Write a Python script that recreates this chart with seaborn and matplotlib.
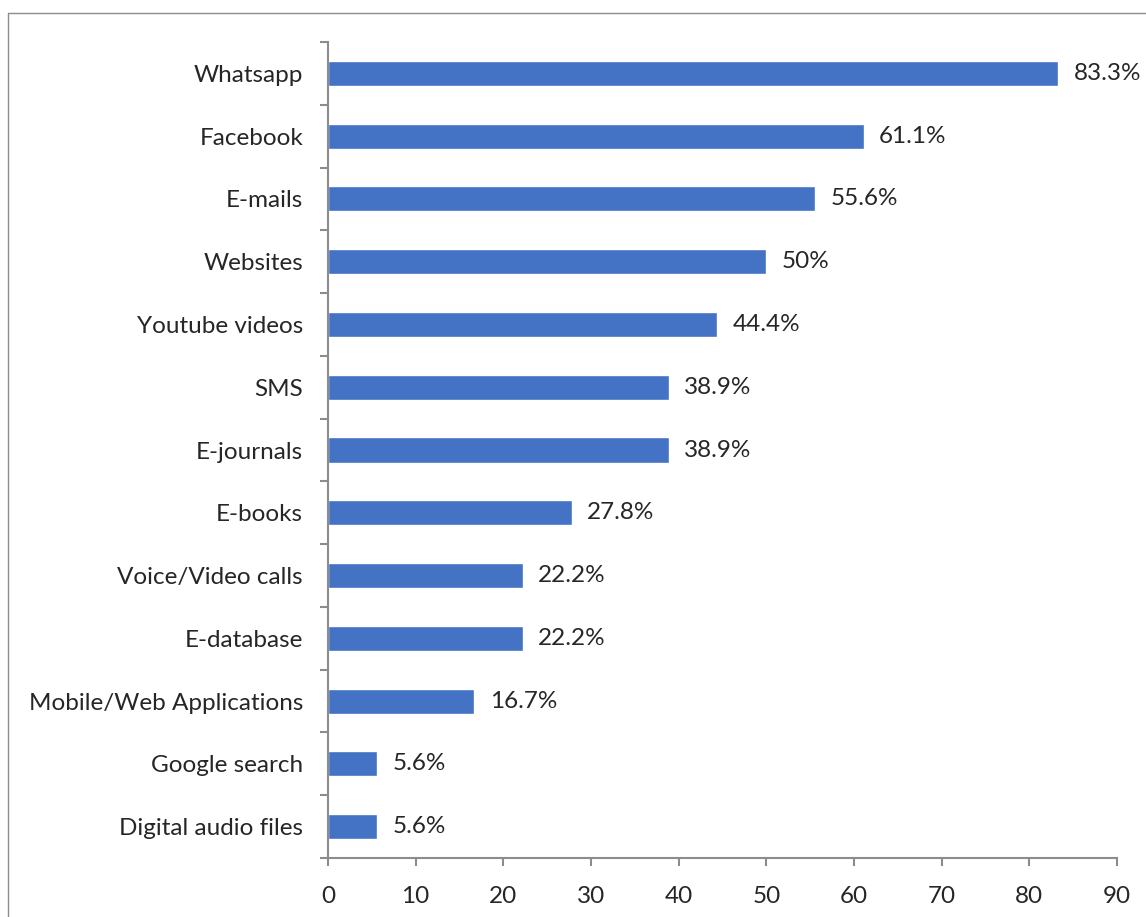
import seaborn as sns
import matplotlib.pyplot as plt
import pandas as pd
from matplotlib.lines import Line2D

sns.set_style("white")
plt.rcParams['font.family'] = ['Lato', 'DejaVu Sans']

categories = ['Whatsapp', 'Facebook', 'E-mails', 'Websites', 'Youtube videos', 'SMS',
              'E-journals', 'E-books', 'Voice/Video calls', 'E-database',
              'Mobile/Web Applications', 'Google search', 'Digital audio files']
values = [83.3, 61.1, 55.6, 50, 44.4, 38.9, 38.9, 27.8, 22.2, 22.2, 16.7, 5.6, 5.6]
value_labels = ['83.3%', '61.1%', '55.6%', '50%', '44.4%', '38.9%', '38.9%',
                '27.8%', '22.2%', '22.2%', '16.7%', '5.6%', '5.6%']
xticks = [0, 10, 20, 30, 40, 50, 60, 70, 80, 90]

df = pd.DataFrame({'Tool': categories, 'Percent': values})

fig = plt.figure(figsize=(11.46, 9.17), dpi=100)
ax = fig.add_axes([328 / 1146, 1 - 858 / 917, (1117 - 328) / 1146, (858 - 42) / 917])

sns.barplot(data=df, y='Tool', x='Percent', color='#4472C4', width=0.4,
            saturation=1, orient='h', ax=ax)

ax.bar_label(ax.containers[0], labels=value_labels, padding=11, fontsize=17.5)

grey = '#8c8c8c'
ax.set_xlim(0, 90)
ax.set_ylim(len(categories) - 0.5, -0.5)
ax.set_xticks(xticks)
ax.set_xlabel('')
ax.set_ylabel('')
ax.tick_params(axis='x', which='major', length=6, width=1.5, color=grey,
               direction='out', labelsize=17.5, pad=14, bottom=True)
ax.tick_params(axis='y', which='major', length=0, labelsize=17.5, pad=18)
ax.set_yticks([i + 0.5 for i in range(-1, len(categories))], minor=True)
ax.tick_params(axis='y', which='minor', length=6, width=1.5, color=grey,
               direction='out', left=True)

for side in ['top', 'right']:
    ax.spines[side].set_visible(False)
for side in ['left', 'bottom']:
    ax.spines[side].set_color(grey)
    ax.spines[side].set_linewidth(1.5)

# chart area border (right and bottom fall outside the picture)
bx = 8 / 1146
by = 1 - 13 / 917
fig.add_artist(Line2D([bx, 1.01], [by, by], transform=fig.transFigure, color=grey, lw=1))
fig.add_artist(Line2D([bx, bx], [-0.01, by], transform=fig.transFigure, color=grey, lw=1))

plt.savefig("out.png", dpi=100)
